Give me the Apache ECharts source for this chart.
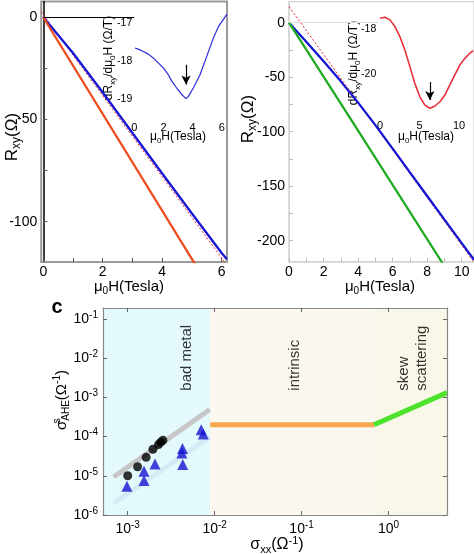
<!DOCTYPE html>
<html><head><meta charset="utf-8">
<script src="https://cdn.jsdelivr.net/npm/echarts@6/dist/echarts.min.js"></script>
<style>html,body{margin:0;padding:0;background:#fff}#c{width:474px;height:554px}</style>
</head><body><div id="c"></div>
<script>
// ---------- Panel a (main) ----------
const aField = [0, 1, 2, 3, 4, 5, 6, 6.18];
const aBlue = [0, -17.5, -36.8, -56.6, -76.4, -96.0, -115.3, -118.3];
const aOrangeField = [0, 5.2];
const aOrange = [0, -123];
const aFitField = [-0.07, 6.18];
const aFit = [2.7, -121.3];
const aXTicks = [0, 2, 4, 6];
const aYTicks = [-100, -50, 0];
// ---------- Panel a (inset) ----------
const aInsetField = [0.05, 0.27, 0.62, 0.96, 1.30, 1.65, 1.99, 2.33, 2.57, 2.91, 3.25, 3.55, 3.71, 4.05, 4.51, 4.97, 5.42, 5.77, 6.23, 6.36];
const aInsetDeriv = [-17.65, -17.68, -17.74, -17.81, -17.91, -18.04, -18.17, -18.35, -18.52, -18.70, -18.87, -18.98, -18.92, -18.70, -18.35, -17.87, -17.39, -17.09, -16.83, -16.76];
const aInsetXTicks = [0, 2, 4, 6];
const aInsetYTicks = [-19, -18, -17];
const aArrow = [[3.55, -18.09], [3.55, -18.61]];
// ---------- Panel b (main) ----------
const bField = [0, 1, 2, 3, 4, 5, 6, 7, 8, 9, 10, 10.71];
const bBlue = [0, -17.5, -35.4, -53.8, -73.3, -94, -115.5, -137.3, -159, -180.7, -202.3, -217.5];
const bGreenField = [0, 4, 8.9];
const bGreen = [0, -99, -221];
const bFitField = [0, 10.71];
const bFit = [14.7, -219.8];
const bXTicks = [0, 2, 4, 6, 8, 10];
const bYTicks = [-200, -150, -100, -50, 0];
// ---------- Panel b (inset) ----------
const bInsetField = [0, 0.63, 1.26, 1.89, 2.52, 3.15, 3.78, 4.41, 5.04, 5.67, 6.31, 6.94, 7.57, 8.2, 8.83, 9.46, 10.09, 10.72, 11.35, 11.77];
const bInsetDeriv = [-17.51, -17.46, -17.58, -17.88, -18.33, -18.93, -19.67, -20.42, -21.02, -21.39, -21.53, -21.43, -21.24, -20.94, -20.49, -20.04, -19.6, -19.3, -19.07, -18.96];
const bInsetXTicks = [0, 5, 10];
const bInsetYTicks = [-20, -18];
const bArrow = [[6.3, -20.36], [6.3, -21.16]];
// ---------- Panel c ----------
const circleSxx = [1.0e-3, 1.30e-3, 1.63e-3, 1.95e-3, 2.26e-3, 2.4e-3, 2.54e-3];
const circleSahe = [1.0e-5, 1.7e-5, 2.95e-5, 4.75e-5, 6.25e-5, 7.2e-5, 8.0e-5];
const triSxx = [0.98e-3, 1.54e-3, 1.54e-3, 2.06e-3, 4.27e-3, 4.2e-3, 4.3e-3, 7.0e-3, 7.4e-3];
const triSahe = [5.4e-6, 1.3e-5, 7.6e-6, 2.0e-5, 5.0e-5, 3.8e-5, 1.93e-5, 1.5e-4, 1.17e-4];
const grayFitSxx = [6.9e-4, 8.8e-3];
const grayFitSahe = [9.3e-6, 4.9e-4];
const blueFitSxx = [6.9e-4, 8.8e-3];
const blueFitSahe = [2.0e-6, 1.0e-4];
const intrinsicSxx = [8.9e-3, 0.68];
const intrinsicSahe = [2.0e-4, 2.0e-4];
const skewSxx = [0.68, 4.7];
const skewSahe = [2.0e-4, 1.32e-3];
const regionBounds = [5.2e-4, 8.9e-3, 0.68, 4.7];
const regionNames = ['bad metal', 'intrinsic', 'skew', 'scattering'];
const regionLabelSxx = [4.83e-3, 0.084, 1.49, 2.41];
const regionLabelSahe = [1.48e-3, 1.48e-3, 1.48e-3, 1.48e-3];
const cXTicks = [1e-3, 1e-2, 1e-1, 1];
const cYTicks = [1e-6, 1e-5, 1e-4, 1e-3, 1e-2, 1e-1];

const FF = 'Liberation Sans, Arial, Helvetica, sans-serif';
const zip = (xs, ys) => xs.map((x, i) => [x, ys[i]]);

const chart = echarts.init(document.getElementById('c'), null, {renderer: 'canvas'});

function valAxis(grid, min, max, ticks, labels, opt) {
  opt = opt || {};
  return {
    type: 'value', gridIndex: grid, min: min, max: max,
    axisLine: {show: opt.line !== false, onZero: !!opt.onZero, lineStyle: {color: opt.lineColor || '#999', width: opt.lineWidth || 1.5}},
    axisTick: {show: opt.tick !== false, inside: true, length: 4, customValues: ticks, lineStyle: {color: opt.tickColor || '#555'}},
    axisLabel: {customValues: labels, fontSize: opt.fs || 14, fontFamily: FF, color: '#000', margin: opt.margin == null ? 3 : opt.margin},
    splitLine: {show: false}
  };
}

const supFmt = v => '{b|10}{s|' + Math.round(Math.log10(v)) + '}';
const supRich = {
  b: {fontSize: 14, fontFamily: FF, color: '#000', lineHeight: 18},
  s: {fontSize: 10, fontFamily: FF, color: '#000', verticalAlign: 'top', lineHeight: 10}
};
function logAxis(grid, min, max, ticks, pos, showLabel) {
  return {
    type: 'log', logBase: 10, gridIndex: grid, min: min, max: max, position: pos, z: 10,
    axisLine: {show: true, onZero: false, lineStyle: {color: '#888', width: 1.2}},
    axisTick: {show: true, inside: true, length: 4, customValues: ticks, lineStyle: {color: '#666'}},
    axisLabel: {show: showLabel, customValues: ticks, formatter: supFmt, rich: supRich, margin: 5},
    splitLine: {show: false}, minorTick: {show: false}
  };
}

function title(x, y, rot, text, size, rich) {
  const base = {fontSize: size, fontFamily: FF, fill: '#000', lineHeight: size + 4};
  const sub = {fontSize: Math.round(size * 0.68), fontFamily: FF, fill: '#000', verticalAlign: 'bottom', lineHeight: Math.round(size * 0.68)};
  const sup = {fontSize: Math.round(size * 0.68), fontFamily: FF, fill: '#000', verticalAlign: 'top', lineHeight: Math.round(size * 0.68)};
  return {
    type: 'text', x: x, y: y, rotation: rot,
    style: {text: text, align: 'center', verticalAlign: 'middle', textAlign: 'center', textVerticalAlign: 'middle',
      rich: Object.assign({m: base, sub: sub, sup: sup}, rich || {})}
  };
}

const noEmph = {disabled: true};
const lineS = (xi, yi, data, color, width, type, z) => ({
  type: 'line', xAxisIndex: xi, yAxisIndex: yi, data: data, showSymbol: false, symbol: 'none',
  lineStyle: {color: color, width: width, type: type || 'solid'}, z: z || 2, emphasis: noEmph, silent: true, clip: true
});

const arrowML = (pts) => ({
  silent: true, animation: false, symbol: ['none', 'arrow'], symbolSize: [7, 9],
  label: {show: false}, lineStyle: {color: '#000', width: 1.2, type: 'solid'},
  data: [[{coord: pts[0]}, {coord: pts[1]}]]
});

const s1 = lineS(0, 0, zip(aField, aBlue), '#1616d4', 2.3);
s1.markLine = {silent: true, animation: false, symbol: 'none', label: {show: false},
  lineStyle: {color: '#000', width: 1.2, type: 'solid'}, data: [[{coord: [0, 0]}, {coord: [3.06, 0]}]]};
const s2 = lineS(0, 0, zip(aOrangeField, aOrange), '#ee4b1e', 2.3);
const s3 = lineS(0, 0, zip(aFitField, aFit), '#e8202a', 1, [2, 2], 1);
const s4 = lineS(1, 1, zip(aInsetField, aInsetDeriv), '#2a2ad8', 1.2);
s4.markLine = arrowML(aArrow);
const s5 = lineS(2, 2, zip(bField, bBlue), '#1616d4', 2.3);
s5.markLine = {silent: true, animation: false, symbol: 'none', label: {show: false},
  lineStyle: {color: '#ddd', width: 1.2, type: 'solid'}, data: [[{coord: [0, 0]}, {coord: [5.15, 0]}]]};
const s6 = lineS(2, 2, zip(bGreenField, bGreen), '#22aa22', 2.3);
const s7 = lineS(2, 2, zip(bFitField, bFit), '#e8202a', 1, [2, 2], 1);
const s8 = lineS(3, 3, zip(bInsetField, bInsetDeriv), '#e8303a', 1.6);
s8.markLine = arrowML(bArrow);

const regionColors = ['#e4f9fc', '#fdf8ef', '#f9f7e8'];
const c1 = lineS(4, 4, zip(grayFitSxx, grayFitSahe), '#c6c6c6', 5, 'solid', 2);
c1.markArea = {silent: true, animation: false,
  data: regionColors.map((col, i) => [{xAxis: regionBounds[i], itemStyle: {color: col}}, {xAxis: regionBounds[i + 1]}])};
c1.z = 1;
const c2 = lineS(4, 4, zip(blueFitSxx, blueFitSahe), '#d4ebf6', 5, 'solid', 2);
const c3 = lineS(4, 4, zip(intrinsicSxx, intrinsicSahe), '#f8a94e', 5, 'solid', 2);
const c4 = lineS(4, 4, zip(skewSxx, skewSahe), '#4be32b', 5, 'solid', 2);
const c5 = {type: 'scatter', xAxisIndex: 4, yAxisIndex: 4, data: zip(circleSxx, circleSahe), symbol: 'circle', symbolSize: 9,
  itemStyle: {color: '#000'}, z: 4, silent: true, emphasis: noEmph};
const c6 = {type: 'scatter', xAxisIndex: 4, yAxisIndex: 4, data: zip(triSxx, triSahe), symbol: 'triangle', symbolSize: 11,
  itemStyle: {color: '#1414cf'}, z: 4, silent: true, emphasis: noEmph};
const c7 = {type: 'scatter', xAxisIndex: 4, yAxisIndex: 4, symbolSize: 0, silent: true, z: 5, emphasis: noEmph,
  data: regionNames.map((n, i) => ({value: [regionLabelSxx[i], regionLabelSahe[i]], name: n})),
  label: {show: true, position: 'inside', formatter: '{b}', rotate: 90, align: 'left', verticalAlign: 'middle',
    fontSize: 15, fontFamily: FF, color: '#000'}};

const option = {
  animation: false,
  backgroundColor: '#fff',
  grid: [
    {left: 41.2, top: 1.5, width: 185.8, height: 260.5, show: true, borderColor: '#9a9a9a', borderWidth: 2, backgroundColor: 'transparent'},
    {left: 134.3, top: 5, width: 92.7, height: 115},
    {left: 289, top: 1.7, width: 185, height: 260, show: true, borderColor: '#d4d4d4', borderWidth: 1.2, backgroundColor: 'transparent'},
    {left: 378.3, top: 2, width: 95.7, height: 116.3},
    {left: 103, top: 308, width: 344, height: 207}
  ],
  xAxis: [
    valAxis(0, -0.07, 6.18, [0, 1, 2, 3, 4, 5, 6], aXTicks, {lineColor: '#9a9a9a', margin: 3}),
    valAxis(1, 0, 6.36, aInsetXTicks, aInsetXTicks, {line: false, tick: false, fs: 11, margin: 2}),
    valAxis(2, 0, 10.71, [0, 1, 2, 3, 4, 5, 6, 7, 8, 9, 10], bXTicks, {lineColor: '#d4d4d4', tickColor: '#bbb', margin: 3}),
    valAxis(3, -0.21, 11.88, bInsetXTicks, bInsetXTicks, {line: false, tick: false, fs: 11, margin: 2}),
    logAxis(4, regionBounds[0], regionBounds[3], cXTicks, 'bottom', true),
    logAxis(4, regionBounds[0], regionBounds[3], cXTicks, 'top', false)
  ],
  yAxis: [
    valAxis(0, -119.7, 7.7, [-100, -75, -50, -25, 0], aYTicks, {onZero: true, lineColor: '#000', lineWidth: 1.5, margin: 4}),
    valAxis(1, -19.54, -16.52, aInsetYTicks, aInsetYTicks, {line: false, tick: false, fs: 10.5, margin: 2}),
    valAxis(2, -219.3, 19.3, [-200, -175, -150, -125, -100, -75, -50, -25, 0], bYTicks, {lineColor: '#d4d4d4', tickColor: '#bbb', margin: 4}),
    valAxis(3, -21.98, -16.78, bInsetYTicks, bInsetYTicks, {line: false, tick: false, fs: 10.5, margin: 2}),
    logAxis(4, 1e-6, 0.19, cYTicks, 'left', true),
    logAxis(4, 1e-6, 0.19, cYTicks, 'right', false)
  ],
  series: [s3, s7, s1, s2, s4, s5, s6, s8, c1, c2, c3, c4, c5, c6, c7],
  graphic: [
    title(129, 287, 0, '{m|μ}{sub|0}{m|H(Tesla)}', 15),
    title(12, 137, Math.PI / 2, '{m|R}{sub|xy}{m|(Ω)}', 17),
    title(178, 137, 0, '{m|μ}{sub|0}{m|H(Tesla)}', 12),
    title(109, 58, Math.PI / 2, '{m|dR}{sub|xy}{m|/dμ}{sub|0}{m|H (Ω/T)}', 12),
    title(380, 287, 0, '{m|μ}{sub|0}{m|H(Tesla)}', 15),
    title(248, 119, Math.PI / 2, '{m|R}{sub|xy}{m|(Ω)}', 17),
    title(426, 137, 0, '{m|μ}{sub|0}{m|H(Tesla)}', 12),
    title(354, 63, Math.PI / 2, '{m|dR}{sub|xy}{m|/dμ}{sub|0}{m|H (Ω/T)}', 12),
    title(62, 400, Math.PI / 2, '{m|σ}{z|s}{sub|AHE}{m|(Ω}{sup|-1}{m|)}', 15,
      {z: {fontSize: 10, fontFamily: FF, fill: '#000', verticalAlign: 'top', lineHeight: 10, width: 0}}),
    title(277, 545, 0, '{m|σ}{sub|xx}{m|(Ω}{sup|-1}{m|)}', 16),
    {type: 'text', x: 57, y: 307, style: {text: 'c', fontSize: 20, fontWeight: 'bold', fontFamily: FF, fill: '#000',
      align: 'center', verticalAlign: 'middle', textAlign: 'center', textVerticalAlign: 'middle'}}
  ]
};
chart.setOption(option);
</script>
</body></html>
